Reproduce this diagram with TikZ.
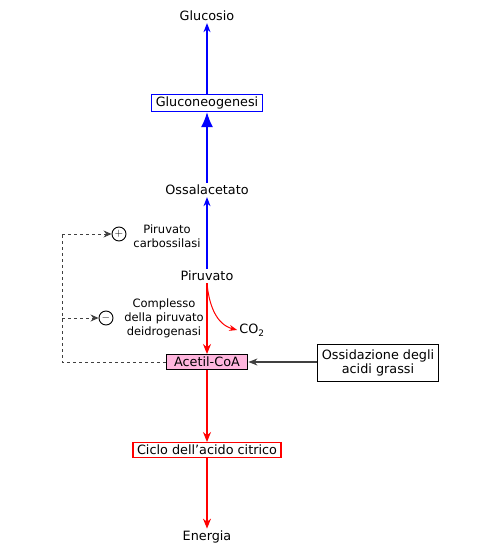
\documentclass[tikz,border=0pt]{standalone}
\usepackage{fontspec}
\setmainfont{DejaVu Sans}
\usetikzlibrary{arrows,arrows.meta,shapes,positioning}
\definecolor{acetilpink}{RGB}{255,182,222}
\begin{document}
\begin{tikzpicture}[x=1pt,y=-1pt]
    \tikzstyle{every node}+=[font=\fontsize{12.8}{14}\selectfont,inner sep=2pt]
    \tikzstyle{metabox}=[draw,inner xsep=4pt,inner ysep=2.5pt,line width=1.1pt]
    \tikzstyle{enzlabel}=[align=center,font=\fontsize{11.5}{14}\selectfont]
    \tikzstyle{enzsign}=[draw,circle,inner sep=0pt,minimum size=14pt,line width=0.9pt,font=\fontsize{11}{11}\selectfont]
    \tikzstyle{bluearrow}=[draw=blue,-{Stealth[length=9pt,width=7pt]},line width=1.2pt]
    \tikzstyle{redarrow}=[draw=red,-{Stealth[length=10pt,width=8pt]},line width=1.2pt]
    \tikzstyle{feedback}=[-{Stealth[length=8pt,width=7pt]},dash pattern=on 3pt off 3pt,line width=1pt]
    \useasboundingbox (0,0) rectangle (500,552);
    % metabolites and pathways
    \node (glucosio) at (207,16) {Glucosio};
    \node [metabox,draw=blue] (gluconeo) at (207,103) {Gluconeogenesi};
    \node (ossalac) at (207,190) {Ossalacetato};
    \node (piruvato) at (207,276) {Piruvato};
    \node [metabox,fill=acetilpink,draw=black,inner xsep=8pt] (acetil) at (207,362) {Acetil-CoA};
    \node [metabox,draw=black,align=center,inner ysep=5pt] (ossid) at (378,363) {Ossidazione degli\\acidi grassi};
    \node [metabox,draw=red] (ciclo) at (207,450) {Ciclo dell'acido citrico};
    \node (energia) at (207,537) {Energia};
    \node (co2) at (252,330) {CO\textsubscript{2}};
    % enzymes
    \node [enzlabel] (carbox) at (167,236) {Piruvato\\carbossilasi};
    \node [enzsign] (plus) at (119,234) {$+$};
    \node [enzlabel] (deidro) at (164,318) {Complesso\\della piruvato\\deidrogenasi};
    \node [enzsign] (minus) at (106,318) {$-$};
    \coordinate (corner) at (62,362);
    \coordinate (cornertop) at (62,234);
    \coordinate (cornermid) at (62,318);
    % connectors
    \draw [bluearrow] (gluconeo) -- (glucosio);
    \draw [draw=blue,fill=blue,-{Latex[length=15pt,width=12pt]},line width=1.2pt] (ossalac) -- (gluconeo);
    \draw [bluearrow] (piruvato) -- (ossalac);
    \draw [redarrow] (piruvato) -- (acetil);
    \draw [draw=red,-{Stealth[length=8pt,width=6pt]},line width=1pt] (piruvato.south) to[out=-85,in=165] (co2.west);
    \draw [draw=black!75,-{Stealth[length=9pt,width=7pt]},line width=1.2pt] (ossid.west |- acetil.east) -- (acetil.east);
    \draw [redarrow] (acetil) -- (ciclo);
    \draw [redarrow] (ciclo) -- (energia);
    \draw [dash pattern=on 3pt off 3pt,line width=1pt,black!75] (acetil.west) -- (corner) -- (cornertop);
    \draw [feedback,black!75] (cornertop) -- (plus);
    \draw [feedback,black!75] (cornermid) -- (minus);
\end{tikzpicture}
\end{document}
